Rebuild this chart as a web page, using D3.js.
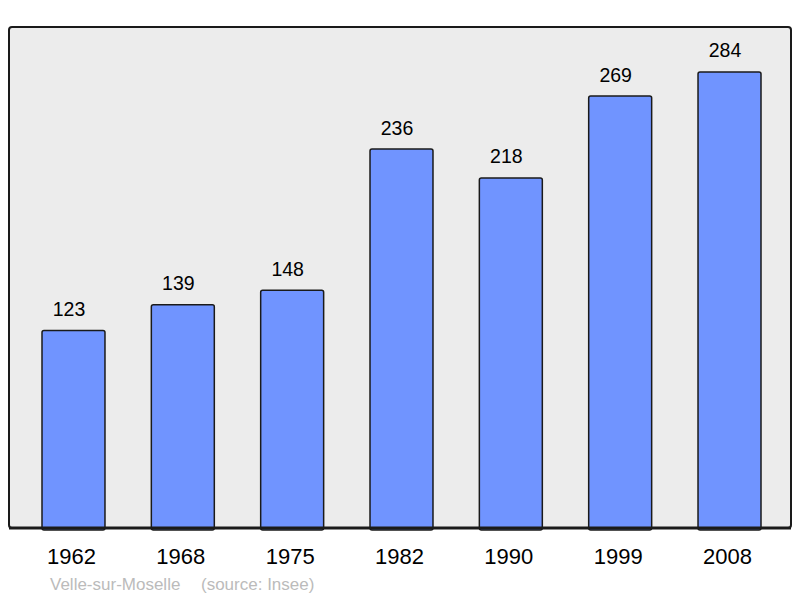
<!DOCTYPE html>
<html>
<head>
<meta charset="utf-8">
<script src="https://cdn.jsdelivr.net/npm/d3@7"></script>
<style>
  body{margin:0;background:#fff;}
  text{font-family:"Liberation Sans",Arial,sans-serif;}
</style>
</head>
<body>
<svg></svg>
<script>
var years=["1962","1968","1975","1982","1990","1999","2008"];
var population=[123,139,148,236,218,269,284];
var place="Velle-sur-Moselle";
var source="(source: Insee)";

var svgWidth=800,svgHeight=598;
var panel={left:9,top:27,right:791,bottom:528};

var svg=d3.select('svg')
  .attr('width',svgWidth)
  .attr('height',svgHeight);

// background panel
svg.append('rect')
  .attr('x',panel.left)
  .attr('y',panel.top)
  .attr('width',panel.right-panel.left)
  .attr('height',panel.bottom-panel.top)
  .attr('rx',3)
  .attr('fill','#ececec')
  .attr('stroke','#1a1a1a')
  .attr('stroke-width',2);

var x=d3.scaleBand()
  .domain(years)
  .range([42,761])
  .paddingInner(0.424)
  .paddingOuter(0);

var y=d3.scaleLinear()
  .domain([0,312])
  .range([panel.bottom,panel.top]);

var data=years.map(function(d,i){return {year:d,value:population[i]};});

svg.selectAll('.bar')
  .data(data)
  .enter().append('rect')
  .attr('class','bar')
  .attr('x',function(d){return x(d.year)})
  .attr('y',function(d){return y(d.value)})
  .attr('width',x.bandwidth())
  .attr('height',function(d){return panel.bottom-y(d.value)+2})
  .attr('rx',2)
  .attr('fill','#7094ff')
  .attr('stroke','#1a1a1a')
  .attr('stroke-width',1.5);

// value labels (sit a bit left of the bar centre, like the original)
svg.selectAll('.val')
  .data(data)
  .enter().append('text')
  .attr('class','val')
  .attr('x',function(d){return x(d.year)+x.bandwidth()/2-4.5})
  .attr('y',function(d){return y(d.value)-14.5})
  .attr('text-anchor','middle')
  .attr('font-size',19.5)
  .attr('fill','#000')
  .text(function(d){return d.value});

// bottom axis line
svg.append('line')
  .attr('x1',panel.left)
  .attr('x2',panel.right)
  .attr('y1',panel.bottom)
  .attr('y2',panel.bottom)
  .attr('stroke','#1a1a1a')
  .attr('stroke-width',3);

// year labels
var xAxis=svg.append('g')
  .attr('transform','translate(-2,'+panel.bottom+')')
  .call(d3.axisBottom(x).tickSize(0).tickPadding(20));
xAxis.select('.domain').remove();
xAxis.selectAll('text')
  .attr('font-size',22)
  .attr('font-family','"Liberation Sans",Arial,sans-serif')
  .attr('fill','#000');

svg.append('text')
  .attr('x',50)
  .attr('y',590)
  .attr('font-size',17)
  .attr('fill','#bbbbbb')
  .text(place);

svg.append('text')
  .attr('x',201)
  .attr('y',590)
  .attr('font-size',17)
  .attr('fill','#bbbbbb')
  .text(source);
</script>
</body>
</html>
